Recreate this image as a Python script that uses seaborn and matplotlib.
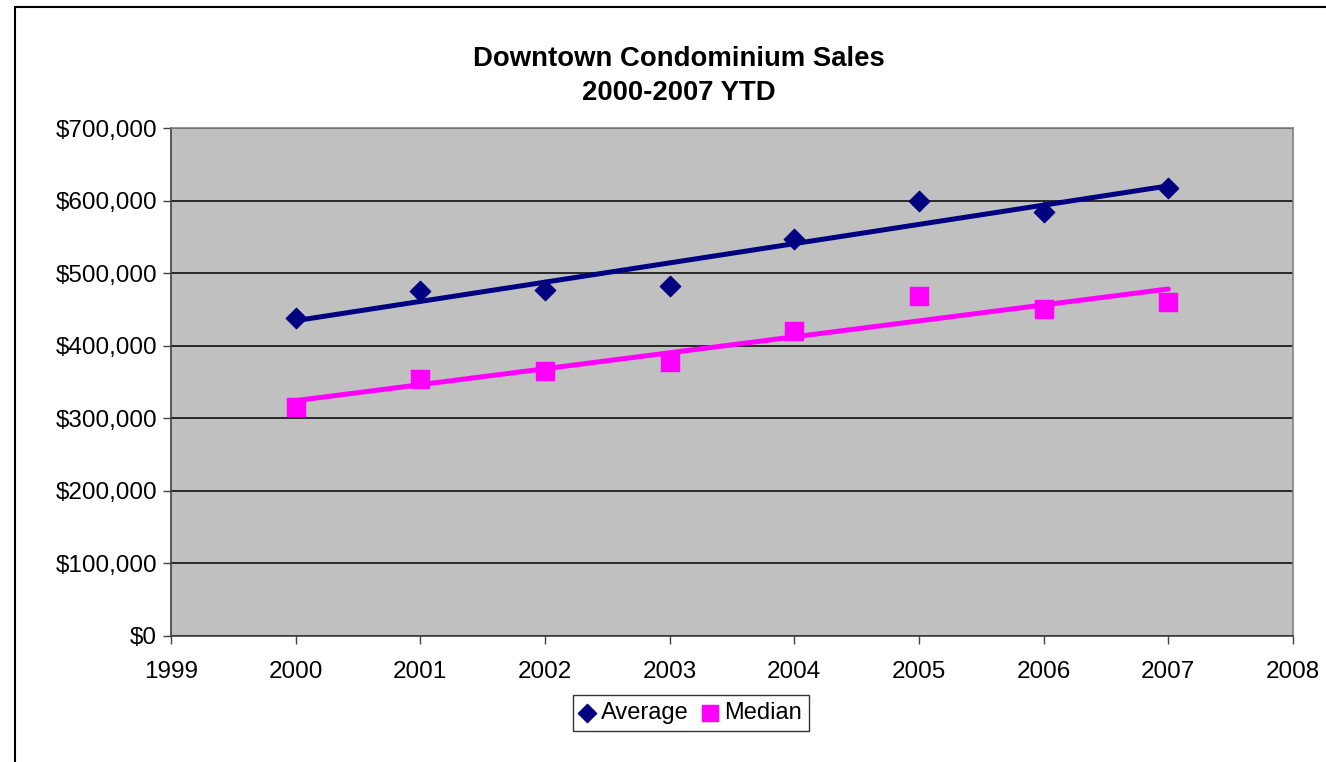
import matplotlib.pyplot as plt
import matplotlib.patches as patches
from matplotlib.ticker import FuncFormatter
import pandas as pd
import seaborn as sns

years = [2000, 2001, 2002, 2003, 2004, 2005, 2006, 2007]
average = [438000, 475000, 477000, 482000, 547000, 599000, 584000, 617000]
median = [315000, 354000, 365000, 378000, 420000, 468000, 450000, 460000]

data = pd.DataFrame({"Year": years, "Average": average, "Median": median})

sns.set_style("white", {"text.color": "black", "xtick.color": "black", "ytick.color": "black"})
plt.rcParams['font.family'] = ['Liberation Sans', 'DejaVu Sans']

fig = plt.figure(figsize=(13.26, 7.62), dpi=100)
ax = fig.add_axes([171 / 1326, 1 - 636 / 762, (1293 - 171) / 1326, (636 - 128) / 762])
ax.set_facecolor("#C0C0C0")

# trendlines (linear fit)
sns.regplot(data=data, x="Year", y="Average", scatter=False, ci=None, ax=ax,
            line_kws={"color": "#000080", "linewidth": 3.6})
sns.regplot(data=data, x="Year", y="Median", scatter=False, ci=None, ax=ax,
            line_kws={"color": "#FF00FF", "linewidth": 3.6})

# points
sns.scatterplot(data=data, x="Year", y="Average", marker="D", s=110, color="#000080",
                edgecolor="#000080", ax=ax, label="Average", zorder=3)
sns.scatterplot(data=data, x="Year", y="Median", marker="s", s=170, color="#FF00FF",
                edgecolor="#FF00FF", ax=ax, label="Median", zorder=3)

ax.set_xlim(1999, 2008)
ax.set_ylim(0, 700000)
ax.set_xticks(range(1999, 2009))
ax.set_yticks(range(0, 700001, 100000))
ax.yaxis.set_major_formatter(FuncFormatter(lambda v, p: "${:,.0f}".format(v)))
ax.grid(axis="y", color="black", linewidth=1.1)
ax.set_axisbelow(True)
ax.set_xlabel("")
ax.set_ylabel("")
ax.tick_params(axis="both", labelsize=17.5, length=6, width=1, color="#404040",
               labelcolor="black", direction="out", left=True, bottom=True)
ax.tick_params(axis="x", pad=12)
ax.tick_params(axis="y", pad=4)

for side in ["top", "right"]:
    ax.spines[side].set_color("#808080")
    ax.spines[side].set_linewidth(1.2)
for side in ["left", "bottom"]:
    ax.spines[side].set_color("#404040")
    ax.spines[side].set_linewidth(1.2)

ax.get_legend().remove()
handles, labels = ax.get_legend_handles_labels()
leg = fig.legend(handles, labels, loc="center", bbox_to_anchor=(691 / 1326, 1 - 713 / 762),
                 ncol=2, fontsize=17, frameon=True, fancybox=False, shadow=False,
                 handlelength=0.6, handletextpad=0.3, columnspacing=0.6,
                 borderpad=0.3, markerscale=0.9)
leg.get_frame().set_edgecolor("black")
leg.get_frame().set_linewidth(1.0)
for t in leg.get_texts():
    t.set_color("black")

fig.text(679 / 1326, 1 - 76 / 762, "Downtown Condominium Sales\n2000-2007 YTD",
         ha="center", va="center", fontsize=19.8, fontweight="bold", linespacing=1.4,
         color="black")

# chart border
border = patches.Rectangle((15 / 1326, -0.1), 1.2, 1.1 - 7 / 762, transform=fig.transFigure,
                           fill=False, edgecolor="black", linewidth=1.5)
fig.patches.append(border)

plt.savefig("out.png", dpi=100)
plt.close()
